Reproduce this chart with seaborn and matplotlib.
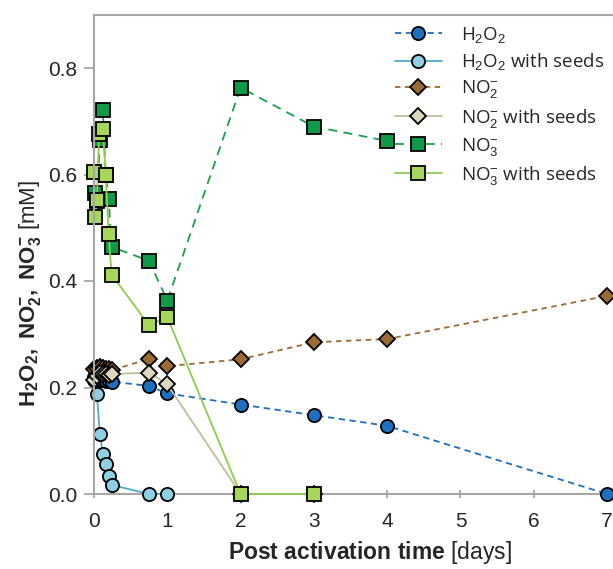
import matplotlib
matplotlib.use("Agg")
import matplotlib.pyplot as plt
import seaborn as sns
import pandas as pd

# ---- data ----
h2o2_x = [0.0, 0.04, 0.08, 0.12, 0.16, 0.20, 0.24, 0.75, 1, 2, 3, 4, 7]
h2o2_y = [0.220, 0.218, 0.215, 0.215, 0.213, 0.212, 0.211, 0.203, 0.189, 0.168, 0.148, 0.128, 0.0]

h2o2s_x = [0.0, 0.04, 0.08, 0.12, 0.16, 0.20, 0.24, 0.75, 1]
h2o2s_y = [0.215, 0.187, 0.112, 0.076, 0.056, 0.033, 0.017, 0.0, 0.0]

no2_x = [0.0, 0.04, 0.08, 0.12, 0.16, 0.20, 0.24, 0.75, 1, 2, 3, 4, 7]
no2_y = [0.235, 0.236, 0.238, 0.236, 0.235, 0.234, 0.232, 0.254, 0.240, 0.253, 0.285, 0.291, 0.372]

no2s_x = [0.0, 0.04, 0.08, 0.12, 0.16, 0.20, 0.24, 0.75, 1, 2, 3]
no2s_y = [0.215, 0.222, 0.228, 0.225, 0.226, 0.224, 0.225, 0.228, 0.206, 0.0, 0.0]

no3_x = [0.01, 0.04, 0.08, 0.12, 0.16, 0.20, 0.24, 0.75, 1, 2, 3, 4]
no3_y = [0.565, 0.550, 0.665, 0.722, 0.600, 0.554, 0.464, 0.438, 0.363, 0.763, 0.690, 0.663]

no3s_x = [0.0, 0.02, 0.04, 0.07, 0.12, 0.16, 0.20, 0.24, 0.75, 1, 2, 3]
no3s_y = [0.605, 0.520, 0.553, 0.676, 0.685, 0.600, 0.488, 0.412, 0.317, 0.332, 0.0, 0.0]

labels = [r"H$_2$O$_2$", r"H$_2$O$_2$ with seeds", r"NO$_2^{-}$", r"NO$_2^{-}$ with seeds",
          r"NO$_3^{-}$", r"NO$_3^{-}$ with seeds"]
xticks = [0, 1, 2, 3, 4, 5, 6, 7]
yticks = [0.0, 0.2, 0.4, 0.6, 0.8]

sns.set_style("white")
plt.rcParams["font.family"] = ["Liberation Sans", "DejaVu Sans"]
plt.rcParams["mathtext.fontset"] = "custom"
plt.rcParams["mathtext.rm"] = "Liberation Sans"
plt.rcParams["mathtext.it"] = "Liberation Sans:italic"
plt.rcParams["mathtext.bf"] = "Liberation Sans:bold"
plt.rcParams["mathtext.sf"] = "Liberation Sans"

W, H = 613, 569
fig = plt.figure(figsize=(W / 100, H / 100), dpi=100)
ax = fig.add_axes([94 / W, 75 / H, (W - 94) / W, 479.25 / H])

series = [
    (h2o2_x, h2o2_y, labels[0], "o", "#1f6fbf", "#1f6fbf", (0, (3.5, 2.5))),
    (h2o2s_x, h2o2s_y, labels[1], "o", "#4bacc6", "#8fcfe3", "-"),
    (no2_x, no2_y, labels[2], "D", "#9c6a35", "#9c6a35", (0, (3, 2.5))),
    (no2s_x, no2s_y, labels[3], "D", "#c4bd97", "#ddd8bd", "-"),
    (no3_x, no3_y, labels[4], "s", "#18a04e", "#0f9a4a", (0, (5, 3.5))),
    (no3s_x, no3s_y, labels[5], "s", "#8ccd4e", "#a6d65a", "-"),
]

for xs, ys, lab, mk, lc, fc, ls in series:
    df = pd.DataFrame({"x": xs, "y": ys})
    ms = 9.5 if mk != "D" else 8
    sns.lineplot(data=df, x="x", y="y", ax=ax, sort=False, estimator=None,
                 color=lc, linestyle=ls, linewidth=1.3, marker=mk,
                 markersize=ms, markerfacecolor=fc, markeredgecolor="black",
                 markeredgewidth=1.3, label=lab, clip_on=False)

ax.set_xlim(0, (W - 94) / 73.3)
ax.set_ylim(0, 0.9)
ax.set_xticks(xticks)
ax.set_yticks(yticks)
ax.set_yticklabels([f"{v:.1f}" for v in yticks])
ax.set_xlabel("")
ax.set_ylabel("")

for s in ["left", "bottom", "top"]:
    ax.spines[s].set_color("#a6a6a6")
    ax.spines[s].set_linewidth(1.5)
ax.spines["right"].set_visible(False)
ax.spines["bottom"].set_zorder(0)

ax.tick_params(axis="y", direction="out", length=7, width=1.3, color="#a6a6a6",
               labelsize=15, pad=5, left=True)
ax.tick_params(axis="x", direction="inout", length=6, width=1.3, color="#a6a6a6",
               labelsize=15, pad=10, bottom=True)

fig.text(370 / W, 1 - 552 / H, r"$\mathbf{Post\ activation\ time}$ [days]",
         ha="center", va="center", fontsize=16.5, family="Liberation Sans")
fig.text(30 / W, 1 - 293 / H,
         r"$\mathbf{H_2O_2,\ NO_2^{-},\ NO_3^{-}}$ [mM]",
         ha="center", va="center", rotation=90, fontsize=16, family="Liberation Sans")

leg = ax.legend(loc="upper left", bbox_to_anchor=(395 / W, 1 - 25 / H),
                bbox_transform=fig.transFigure, frameon=False,
                prop={"family": "Open Sans", "size": 13.5},
                handlelength=2.5, handletextpad=1.0, labelspacing=0.33,
                borderpad=0, borderaxespad=0)

fig.savefig("out.png", dpi=100)
